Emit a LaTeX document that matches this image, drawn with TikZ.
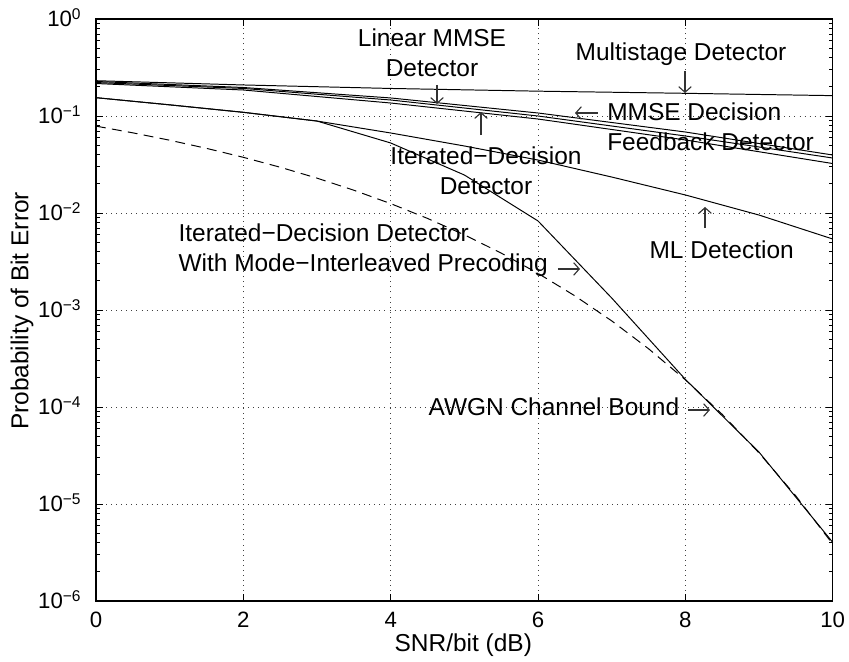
\documentclass[tikz,border=0pt]{standalone}
\usepackage{fontspec}
\setmainfont{Liberation Sans}
\usetikzlibrary{arrows.meta}

\tikzset{
  curve/.style={line width=0.7pt},
  bound/.style={line width=0.7pt, dash pattern=on 7pt off 4.5pt},
  gridline/.style={line width=0.5pt, black!75, dash pattern=on 0.6pt off 3pt},
  pointer/.style={line width=0.8pt, black!80, -{Straight Barb[length=4pt,width=9pt]}},
  note/.style={font=\fontsize{17.4}{21.3}\selectfont, inner sep=0pt},
  ticklabel/.style={font=\fontsize{15.8}{18}\selectfont, inner sep=0pt},
}

\begin{document}
\begin{tikzpicture}[x=1.8417cm, y=2.425cm]
    \useasboundingbox (-1.3031,-6.6186) rectangle (10.2213,0.1959);

    \foreach \x in {2,4,6,8}
      \draw[gridline] (\x,-6) -- (\x,0);
    \foreach \y in {-5,...,-1}
      \draw[gridline] (0,\y) -- (10,\y);

    \foreach \x in {0,2,...,10} {
      \draw[line width=0.6pt] (\x,-6) -- ++(0,0.175cm);
      \draw[line width=0.6pt] (\x,0) -- ++(0,-0.175cm);
      \node[ticklabel, yshift=-0.48cm] (x\x) at (\x,-6) {\x};
    }
    \foreach \n/\s in {0/0,1/−1,2/−2,3/−3,4/−4,5/−5,6/−6} {
      \draw[line width=0.6pt] (0,-\n) -- ++(0.175cm,0);
      \draw[line width=0.6pt] (10,-\n) -- ++(-0.175cm,0);
      \node[ticklabel, anchor=base east, xshift=-0.36cm, yshift=-0.195cm] (y\n) at (0,-\n) {10\textsuperscript{\s}};
    }
    \foreach \d in {-6,...,-1}
      \foreach \m in {2,...,9} {
        \draw[line width=0.5pt] (0,{\d+log10(\m)}) -- ++(0.1cm,0);
        \draw[line width=0.5pt] (10,{\d+log10(\m)}) -- ++(-0.1cm,0);
      }
    \draw[line width=0.9pt] (0,-6) rectangle (10,0);

    \node[note] (xlabel) at (4.986,-6.454) {SNR/bit (dB)};
    \node[note, rotate=90] (ylabel) at (-1.0045,-3.010) {Probability of Bit Error};

    % multistage, linear MMSE, MMSE-DFE, iterated-decision
    \draw[curve] plot coordinates {(0,-0.636) (2,-0.680) (4,-0.716) (6,-0.744) (8,-0.766) (10,-0.79)};
    \draw[curve] plot coordinates {(0,-0.644) (2,-0.706) (4,-0.814) (6,-0.969) (8,-1.165) (10,-1.402)};
    \draw[curve] plot coordinates {(0,-0.655) (2,-0.716) (4,-0.835) (6,-1.000) (8,-1.206) (10,-1.433)};
    \draw[curve] plot coordinates {(0,-0.665) (2,-0.732) (4,-0.866) (6,-1.031) (8,-1.247) (10,-1.490)};

    % ML and mode-interleaved precoding
    \draw[curve] plot coordinates {(0,-0.811) (1,-0.885) (2,-0.962) (3,-1.052) (4,-1.175) (5,-1.309)
      (6,-1.454) (7,-1.629) (8,-1.814) (9,-2.021) (10,-2.268)};
    \draw[curve] plot coordinates {(0,-0.811) (1,-0.885) (2,-0.962) (3,-1.052) (4,-1.278) (5,-1.608)
      (6,-2.082) (7,-2.876) (8,-3.715) (9,-4.465) (10,-5.395)};

    % AWGN bound
    \draw[bound] plot coordinates {(0,-1.1043) (0.5,-1.1735) (1,-1.2497) (1.5,-1.3335) (2,-1.4259)
      (2.5,-1.5280) (3,-1.6405) (3.5,-1.7652) (4,-1.9031) (4.5,-2.0558) (5,-2.2252) (5.5,-2.4132)
      (6,-2.6220) (6.5,-2.8539) (7,-3.1120) (7.5,-3.3990) (8,-3.7192) (8.5,-4.0757) (9,-4.4733)
      (9.5,-4.9170) (10,-5.4121)};

    \node[note, align=center] (lmmse) at (4.561,-0.345) {Linear MMSE\\Detector};
    \coordinate (lmmse a) at (4.629,-0.680);
    \coordinate (lmmse b) at (4.629,-0.876);
    \draw[pointer] (lmmse a) -- (lmmse b);

    \node[note] (multi) at (7.941,-0.364) {Multistage Detector};
    \coordinate (multi a) at (7.995,-0.536);
    \coordinate (multi b) at (7.995,-0.763);
    \draw[pointer] (multi a) -- (multi b);

    \node[note, align=left, anchor=west] (dfe) at (6.936,-1.110) {MMSE Decision\\Feedback Detector};
    \coordinate (dfe a) at (6.814,-0.969);
    \coordinate (dfe b) at (6.502,-0.969);
    \draw[pointer] (dfe a) -- (dfe b);

    \node[note, align=center] (idd) at (5.294,-1.567) {Iterated−Decision\\Detector};
    \coordinate (idd a) at (5.226,-1.196);
    \coordinate (idd b) at (5.226,-0.959);
    \draw[pointer] (idd a) -- (idd b);

    \node[note] (ml) at (8.493,-2.381) {ML Detection};
    \coordinate (ml a) at (8.267,-2.155);
    \coordinate (ml b) at (8.267,-1.938);
    \draw[pointer] (ml a) -- (ml b);

    \node[note, align=left, anchor=west] (mip) at (1.117,-2.381) {Iterated−Decision Detector\\With Mode−Interleaved Precoding};
    \coordinate (mip a) at (6.271,-2.577);
    \coordinate (mip b) at (6.570,-2.577);
    \draw[pointer] (mip a) -- (mip b);

    \node[note, anchor=west] (awgn) at (4.511,-3.997) {AWGN Channel Bound};
    \coordinate (awgn a) at (8.036,-4.031);
    \coordinate (awgn b) at (8.334,-4.031);
    \draw[pointer] (awgn a) -- (awgn b);
\end{tikzpicture}
\end{document}
